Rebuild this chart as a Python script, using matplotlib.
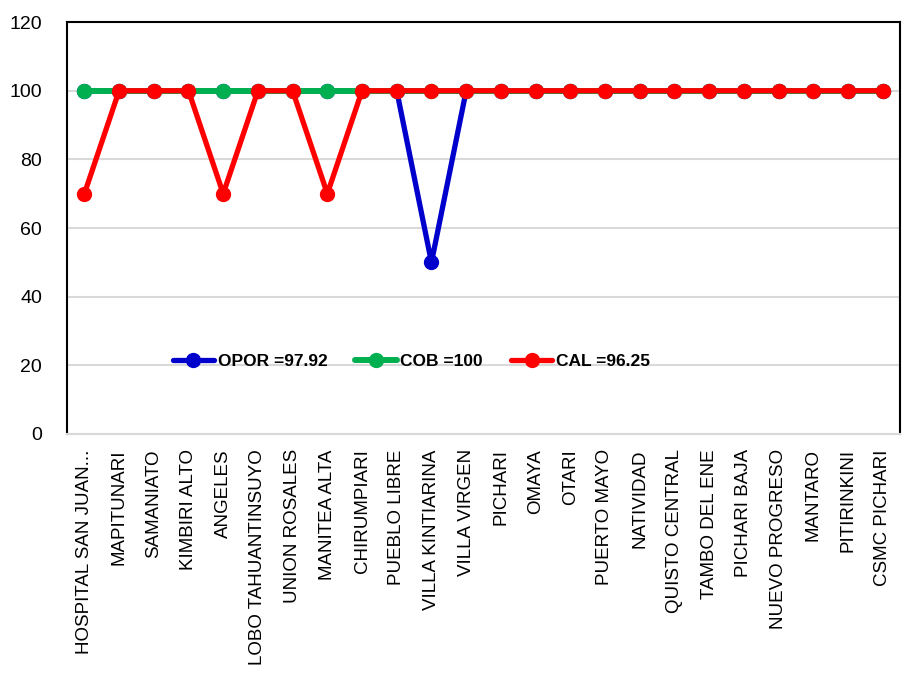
import matplotlib.pyplot as plt

plt.rcParams['font.family'] = ['Liberation Sans', 'DejaVu Sans']

centros = ["HOSPITAL SAN JUAN...", "MAPITUNARI", "SAMANIATO", "KIMBIRI ALTO",
           "ANGELES", "LOBO TAHUANTINSUYO", "UNION ROSALES", "MANITEA ALTA",
           "CHIRUMPIARI", "PUEBLO LIBRE", "VILLA KINTIARINA", "VILLA VIRGEN",
           "PICHARI", "OMAYA", "OTARI", "PUERTO MAYO", "NATIVIDAD",
           "QUISTO CENTRAL", "TAMBO DEL ENE", "PICHARI BAJA", "NUEVO PROGRESO",
           "MANTARO", "PITIRINKINI", "CSMC PICHARI"]
opor = [100, 100, 100, 100, 100, 100, 100, 100, 100, 100, 50, 100,
        100, 100, 100, 100, 100, 100, 100, 100, 100, 100, 100, 100]
cob = [100] * 24
cal = [70, 100, 100, 100, 70, 100, 100, 70, 100, 100, 100, 100,
       100, 100, 100, 100, 100, 100, 100, 100, 100, 100, 100, 100]

lbl_opor = "OPOR =97.92"
lbl_cob = "COB =100"
lbl_cal = "CAL =96.25"

fig = plt.figure(figsize=(9.02, 6.91), dpi=100)
ax = fig.add_axes([0.0743, 0.372, 0.9235, 0.596])

x = range(len(centros))
kw = dict(marker='o', markersize=10, solid_capstyle='round')
ax.plot(x, opor, color="#0000CC", label=lbl_opor, linewidth=3.8, **kw)
ax.plot(x, cob, color="#00B050", label=lbl_cob, linewidth=4.3, **kw)
ax.plot(x, cal, color="#FF0000", label=lbl_cal, linewidth=3.8, **kw)

ax.set_ylim(0, 120)
ax.set_yticks(range(0, 121, 20))
ax.set_xlim(-0.5, len(centros) - 0.5)
ax.set_xticks(list(x))
ax.set_xticklabels(centros, rotation=90, fontsize=13.5)
ax.tick_params(axis='y', labelsize=14, length=0, pad=18)
ax.tick_params(axis='x', length=0, pad=11)
ax.grid(axis='y', color="#d9d9d9", linewidth=1.5)
ax.set_axisbelow(True)
for s in ['left', 'top', 'right']:
    ax.spines[s].set_color('black')
    ax.spines[s].set_linewidth(1.5)
ax.spines['bottom'].set_color("#d9d9d9")
ax.spines['bottom'].set_linewidth(1.5)

leg = ax.legend(loc='center left', bbox_to_anchor=(0.108, 0.177), ncol=3,
                frameon=False, handlelength=2.4, handletextpad=0.2,
                columnspacing=1.6, prop={'weight': 'bold', 'size': 12.5})

fig.savefig("out.png", dpi=100)
